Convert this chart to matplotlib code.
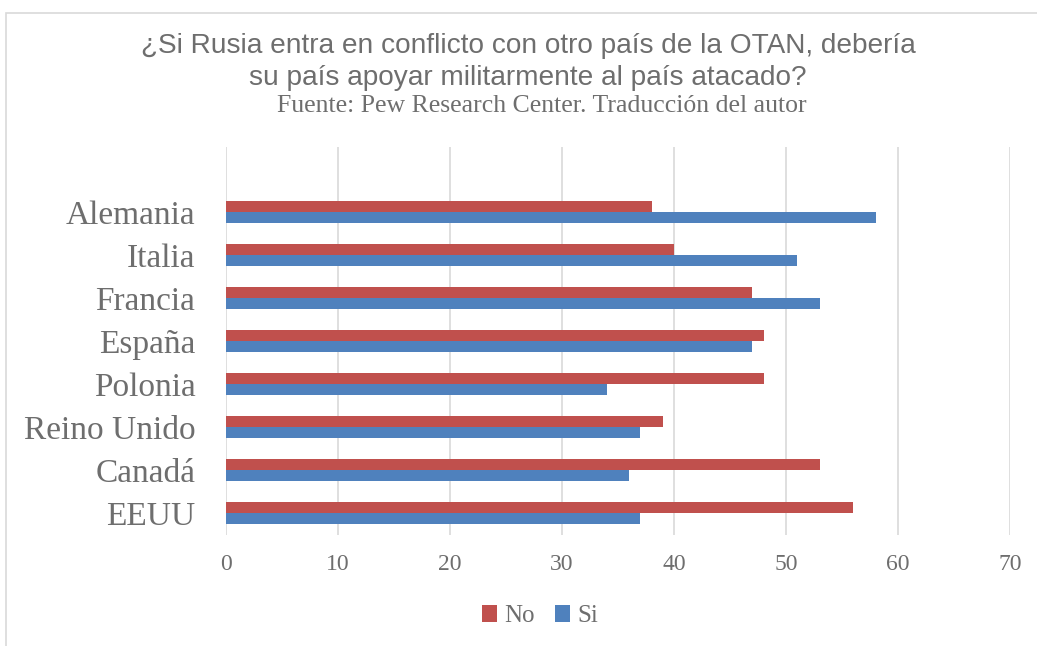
import matplotlib.pyplot as plt
import numpy as np
from matplotlib.patches import Rectangle

paises = ["EEUU", "Canadá", "Reino Unido", "Polonia", "España", "Francia", "Italia", "Alemania"]
no_vals = [56, 53, 39, 48, 48, 47, 40, 38]
si_vals = [37, 36, 37, 34, 47, 53, 51, 58]
xticks = [0, 10, 20, 30, 40, 50, 60, 70]

RED = "#C0504D"
BLUE = "#4F81BD"
GRAY = "#6E6E6E"
SERIF = "Liberation Serif"

fig = plt.figure(figsize=(10.37, 6.46), dpi=100)
# chart frame
fig.patches.append(Rectangle((6 / 1037, -0.1), 1.2, (646 - 13) / 646 + 0.1,
                             transform=fig.transFigure, fill=False,
                             edgecolor="#D9D9D9", linewidth=1.2))

ax = fig.add_axes([226 / 1037, 1 - 535 / 646, (1010 - 226) / 1037, (535 - 147) / 646])

y = np.arange(len(paises))
h = 0.26
ax.barh(y + h / 2, no_vals, height=h, color=RED, label="No", zorder=3)
ax.barh(y - h / 2, si_vals, height=h, color=BLUE, label="Si", zorder=3)

ax.set_xlim(0, 70)
ax.set_ylim(-0.51, 8.51)
ax.set_xticks(xticks)
ax.set_xticklabels([str(t) for t in xticks], fontfamily=SERIF, fontsize=17, color=GRAY)
ax.set_yticks(y)
ax.set_yticklabels(paises, fontfamily=SERIF, fontsize=24, color=GRAY)
ax.tick_params(axis="both", length=0)
ax.tick_params(axis="x", pad=14)
ax.tick_params(axis="y", pad=22)
ax.grid(axis="x", color="#D9D9D9", linewidth=1.2, zorder=0)
for s in ax.spines.values():
    s.set_visible(False)

fig.text(528 / 1037, 1 - 46 / 646, "¿Si Rusia entra en conflicto con otro país de la OTAN, debería",
         ha="center", va="center", fontsize=20.2, color=GRAY, family="Liberation Sans")
fig.text(528 / 1037, 1 - 78 / 646, "su país apoyar militarmente al país atacado?",
         ha="center", va="center", fontsize=20.2, color=GRAY, family="Liberation Sans")
fig.text(542 / 1037, 1 - 106 / 646, "Fuente: Pew Research Center. Traducción del autor",
         ha="center", va="center", fontsize=18.5, color=GRAY, family=SERIF)

leg = fig.legend(loc="center", bbox_to_anchor=(540 / 1037, 1 - 616 / 646), ncol=2,
                 frameon=False, prop={"family": SERIF, "size": 18},
                 handlelength=0.6, handleheight=0.7, handletextpad=0.3, columnspacing=0.8)
for t in leg.get_texts():
    t.set_color(GRAY)

fig.savefig("out.png", dpi=100)
